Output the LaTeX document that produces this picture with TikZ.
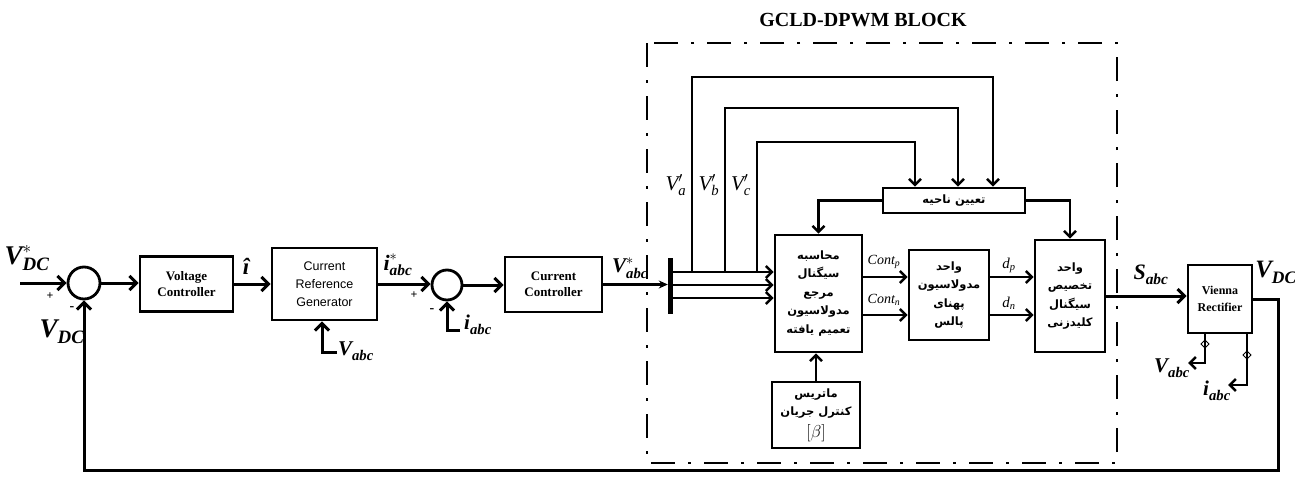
\documentclass[tikz,border=0pt]{standalone}
\usepackage{amsmath}
\usepackage{fontspec}
\setmainfont{Liberation Serif}
\newfontfamily\arialf{Liberation Sans}
\newfontfamily\fafont[Script=Arabic]{DejaVu Sans}
\TeXXeTstate=1
\usetikzlibrary{arrows.meta}
\newcommand{\rl}[1]{\beginR #1\endR}
\newcommand{\blab}[3]{$\text{\bfseries\itshape #1}_{\text{\bfseries\itshape #2}}^{#3}$}
\newcommand{\fs}[1]{\fontsize{#1}{#1}\selectfont}
\begin{document}
\begin{tikzpicture}[x=1pt,y=-1pt,
  blk/.style={draw, line width=2.8pt, inner sep=0pt, align=center},
  fablk/.style={blk, line width=2.6pt, font=\fafont\bfseries\fontsize{11.5}{18.5}\selectfont},
  sumc/.style={draw, circle, line width=2.8pt, inner sep=0pt},
  arr/.style={line width=3pt, -{Straight Barb[length=7pt,width=14pt]}},
  sarr/.style={line width=2.5pt, -{Straight Barb[length=6pt,width=12pt]}},
  lab/.style={inner sep=0pt},
  dashbox/.style={line width=2.8pt, dash pattern=on 24pt off 13pt on 3pt off 13pt}
]
\useasboundingbox (0,0) rectangle (1295,482);

% main row
\node[sumc, minimum size=32pt] (S1) at (84,283) {};
\node[blk, minimum width=93pt, minimum height=55pt, font=\bfseries\fs{13}] (VC) at (186.5,284) {Voltage\\[3pt]Controller};
\node[blk, minimum width=105pt, minimum height=72pt, font=\arialf\fontsize{12.5}{18}\selectfont] (CRG) at (324.5,284) {Current\\Reference\\Generator};
\node[sumc, minimum size=30pt] (S2) at (447,285) {};
\node[blk, minimum width=97pt, minimum height=55pt, font=\bfseries\fs{13}] (CC) at (553.5,284.5) {Current\\[3pt]Controller};
\node[draw, fill, minimum width=4pt, minimum height=55pt, inner sep=0pt] (bar) at (670,285.5) {};

% GCLD block
\draw[dashbox] (647,43) rectangle (1117,463);
\node[lab, font=\bfseries\fs{20}] (title) at (863,20) {GCLD-DPWM BLOCK};

\node[fablk, minimum width=142pt, minimum height=25pt] (T) at (954,200.5) {\rl{تعیین ناحیه}};
\node[fablk, minimum width=87pt, minimum height=117pt] (M) at (818.5,293.5) {\rl{محاسبه}\\\rl{سیگنال}\\\rl{مرجع}\\\rl{مدولاسیون}\\\rl{تعمیم یافته}};
\node[fablk, minimum width=80pt, minimum height=90pt] (B3) at (949,295) {\rl{واحد}\\\rl{مدولاسیون}\\\rl{پهنای}\\\rl{پالس}};
\node[fablk, minimum width=70pt, minimum height=112pt] (B4) at (1070,296) {\rl{واحد}\\\rl{تخصیص}\\\rl{سیگنال}\\\rl{کلیدزنی}};
\node[fablk, minimum width=88pt, minimum height=66pt] (MX) at (816,415) {\rl{ماتریس}\\\rl{کنترل جریان}\\[3pt]{\normalfont\fs{19}$[\beta]$}};

\node[blk, minimum width=64pt, minimum height=68pt, font=\bfseries\fontsize{12}{17}\selectfont] (VR) at (1220,299) {Vienna\\Rectifier};

% main connectors
\coordinate (in) at (20,283);
\draw[arr] (in) -- (S1.west);
\draw[arr] (S1.east) -- (S1.east -| VC.west);
\draw[arr] (VC.east) -- (VC.east -| CRG.west);
\draw[arr] (CRG.east) -- (CRG.east -| S2.west);
\draw[arr] (S2.east) -- (S2.east -| CC.west);
\draw[arr, -{Stealth[length=9pt,width=8pt]}] (CC.east) -- (CC.east -| bar.west);

\coordinate (crgv) at (337,352);
\draw[arr] (crgv) -| (CRG.south -| 322,0);
\coordinate (s2i) at (460,330);
\draw[arr] (s2i) -| (S2.south);

% feedback
\coordinate (fbR) at (1278,470);
\coordinate (fbL) at (84,470);
\draw[arr] (VR.east) -| (fbR) -- (fbL) -- (S1.south);

% bus lines
\foreach \yy in {272,285,298} {
  \draw[sarr] (bar.east |- 0,\yy) -- (M.west |- 0,\yy);
}
\coordinate (ta) at (692,272);
\coordinate (tb) at (725,272);
\coordinate (tc) at (757,272);
\draw[sarr] (ta) |- (993,77) -- (993,0 |- T.north);
\draw[sarr] (tb) |- (958,108) -- (958,0 |- T.north);
\draw[sarr] (tc) |- (915,142) -- (915,0 |- T.north);
\draw[sarr] (T.west) -| (M.north);
\draw[sarr] (T.east) -| (B4.north);

\draw[sarr] (M.east |- 0,277) -- (B3.west |- 0,277);
\draw[sarr] (M.east |- 0,315) -- (B3.west |- 0,315);
\draw[sarr] (B3.east |- 0,277) -- (B4.west |- 0,277);
\draw[sarr] (B3.east |- 0,315) -- (B4.west |- 0,315);
\draw[sarr] (MX.north) -- (MX.north |- M.south);

\draw[arr] (B4.east) -- (B4.east -| VR.west);

% Vienna measurement outputs
\coordinate (vo1) at (1188,363);
\coordinate (vo2) at (1228,385);
\draw[sarr] (1205,0 |- VR.south) |- (vo1);
\draw[sarr] (1247,0 |- VR.south) |- (vo2);
\draw[line width=0.8pt] (1201,344) -- (1205,340) -- (1209,344) -- (1205,348) -- cycle;
\draw[line width=0.8pt] (1243,355) -- (1247,351) -- (1251,355) -- (1247,359) -- cycle;

% labels
\node[lab, font=\fs{27}] (lVDCs) at (27,258) {\blab{V}{DC}{*}};
\node[lab, font=\bfseries\fs{12}] (lp1) at (50,296) {+};
\node[lab, font=\bfseries\fs{14}] (lm1) at (72,309) {-};
\node[lab, font=\fs{27}] (lVDC) at (62,332) {\blab{V}{DC}{}};
\node[lab, font=\bfseries\itshape\fs{23}] (lih) at (246,266) {î};
\node[lab, font=\fs{22}] (lis) at (398,265) {\blab{i}{abc}{*}};
\node[lab, font=\bfseries\fs{12}] (lp2) at (414,295) {+};
\node[lab, font=\bfseries\fs{14}] (lm2) at (432,311) {-};
\node[lab, font=\fs{21}] (lia) at (478,325) {\blab{i}{abc}{}};
\node[lab, font=\fs{21}] (lva) at (356,351) {\blab{V}{abc}{}};
\node[lab, font=\fs{21}] (lvas) at (630,268) {\blab{V}{abc}{*}};
\node[lab, font=\itshape\fs{21}] (lVa) at (676,185) {$\text{\itshape V}_{\text{\itshape a}}^{\prime}$};
\node[lab, font=\itshape\fs{21}] (lVb) at (709,185) {$\text{\itshape V}_{\text{\itshape b}}^{\prime}$};
\node[lab, font=\itshape\fs{21}] (lVc) at (741,185) {$\text{\itshape V}_{\text{\itshape c}}^{\prime}$};
\node[lab, font=\itshape\fs{14}] (lcp) at (884,262) {$\text{\itshape Cont}_{\text{\itshape p}}$};
\node[lab, font=\itshape\fs{14}] (lcn) at (884,300) {$\text{\itshape Cont}_{\text{\itshape n}}$};
\node[lab, font=\itshape\fs{15}] (ldp) at (1009,265) {$\text{\itshape d}_{\text{\itshape p}}$};
\node[lab, font=\itshape\fs{15}] (ldn) at (1009,303) {$\text{\itshape d}_{\text{\itshape n}}$};
\node[lab, font=\fs{22}] (lSabc) at (1151,275) {\blab{S}{abc}{}};
\node[lab, font=\fs{25}] (lVDC2) at (1276,272) {\blab{V}{DC}{}};
\node[lab, font=\fs{21}] (lVabc2) at (1172,368) {\blab{V}{abc}{}};
\node[lab, font=\fs{21}] (liabc2) at (1217,391) {\blab{i}{abc}{}};
\end{tikzpicture}
\end{document}
